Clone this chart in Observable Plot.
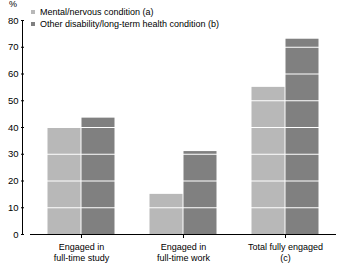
<!DOCTYPE html>
<html>
<head>
<meta charset="utf-8">
<script src="https://cdn.jsdelivr.net/npm/d3@7"></script>
<script src="https://cdn.jsdelivr.net/npm/@observablehq/plot@0.6"></script>
<style>
  body { margin: 0; background: #fff; }
  #wrap { position: relative; width: 340px; height: 265px; font-family: "Liberation Sans", Arial, sans-serif; }
  #wrap svg { display: block; }
  .legend { position: absolute; left: 31px; top: 7px; font-size: 9px; line-height: 11.5px; color: #000; }
  .legend div { white-space: nowrap; }
  .sw { display: inline-block; width: 4px; height: 4px; margin-right: 5px; vertical-align: 1px; }
  .pct { position: absolute; left: 9px; top: -1px; font-size: 9px; }
</style>
</head>
<body>
<div id="wrap"></div>
<script>
const categories = ["Engaged in\nfull-time study", "Engaged in\nfull-time work", "Total fully engaged\n(c)"];
const seriesNames = ["Mental/nervous condition (a)", "Other disability/long-term health condition (b)"];
const mental = [40, 15, 55];
const other = [43.5, 31, 73];
const yTicks = [0, 10, 20, 30, 40, 50, 60, 70, 80];
const colors = ["#b8b8b8", "#808080"];

const data = [];
categories.forEach((c, i) => {
  data.push({cat: c, series: seriesNames[0], value: mental[i]});
  data.push({cat: c, series: seriesNames[1], value: other[i]});
});

const chart = Plot.plot({
  width: 340,
  height: 265,
  marginLeft: 29,
  marginRight: 4,
  marginTop: 20,
  marginBottom: 31,
  style: {fontFamily: "Liberation Sans, Arial, sans-serif", fontSize: "9px", color: "#000", background: "#fff"},
  fx: {domain: categories, paddingInner: 0, paddingOuter: 0},
  x: {domain: seriesNames, paddingInner: 0, paddingOuter: 0.464, axis: null},
  y: {domain: [0, 80]},
  color: {domain: seriesNames, range: colors},
  marks: [
    Plot.barY(data, {fx: "cat", x: "series", y: "value", fill: "series", insetLeft: 0.5, insetRight: 0.5}),
    Plot.gridY(yTicks.filter(d => d > 0), {stroke: "white", strokeOpacity: 1, strokeWidth: 1}),
    Plot.ruleY([0], {stroke: "black", strokeWidth: 1}),
    Plot.axisY(yTicks, {tickSize: 3, tickPadding: 3, dx: -6, label: null, fontSize: 9.5}),
    Plot.axisFx({anchor: "bottom", tickSize: 4, tickPadding: 3, label: null, lineHeight: 1.25, fontSize: 9})
  ]
});

const wrap = document.getElementById("wrap");
wrap.appendChild(chart);

// vertical y-axis line, positioned via the plot's own y scale
const ys = chart.scale("y");
d3.select(chart).append("line")
  .attr("x1", 29 - 6.5).attr("x2", 29 - 6.5)
  .attr("y1", ys.apply(0)).attr("y2", ys.apply(80))
  .attr("stroke", "black");

const pct = document.createElement("div");
pct.className = "pct";
pct.textContent = "%";
wrap.appendChild(pct);

const legend = document.createElement("div");
legend.className = "legend";
seriesNames.forEach((s, i) => {
  const row = document.createElement("div");
  const sw = document.createElement("span");
  sw.className = "sw";
  sw.style.background = colors[i];
  row.appendChild(sw);
  row.appendChild(document.createTextNode(s));
  legend.appendChild(row);
});
wrap.appendChild(legend);
</script>
</body>
</html>
